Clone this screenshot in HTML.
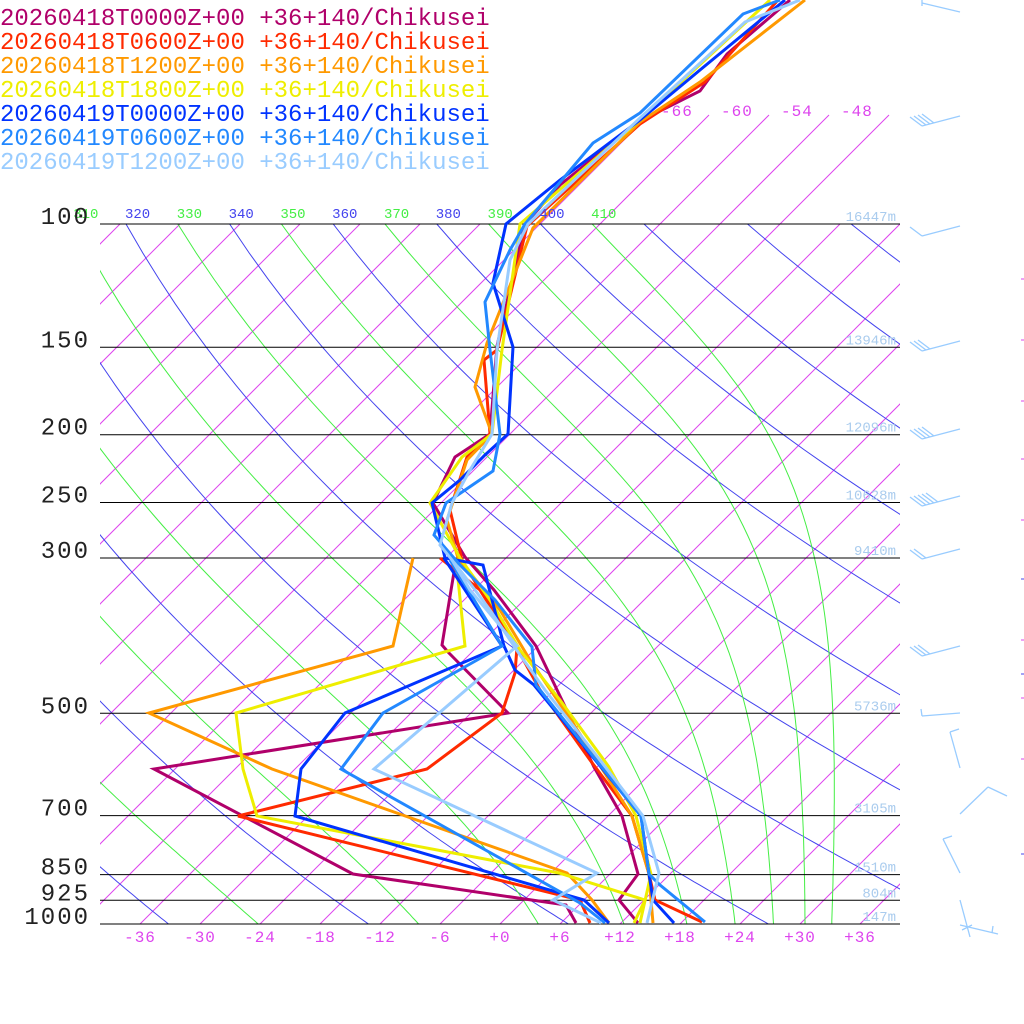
<!DOCTYPE html>
<html><head><meta charset="utf-8">
<style>
html,body{margin:0;padding:0;background:#fff;}
svg{display:block;}
text{font-family:"Liberation Mono",monospace;}
</style></head>
<body>
<svg id="s" width="1024" height="1024" viewBox="0 0 1024 1024" xmlns="http://www.w3.org/2000/svg">
<defs><clipPath id="c"><rect x="100" y="224" width="800" height="700"/></clipPath></defs>
<g id="grid" clip-path="url(#c)"></g>
<g id="extra"></g>
<g id="hl"></g>
<g id="data" fill="none" stroke-width="3" stroke-linejoin="miter"></g>
<g id="txt"></g>
</svg>
<script>
var NS="http://www.w3.org/2000/svg";
function el(p,t,a,txt){var e=document.createElementNS(NS,t);for(var k in a)e.setAttribute(k,a[k]);if(txt!==undefined)e.textContent=txt;document.getElementById(p).appendChild(e);return e;}
function Y(p){return 924-700*Math.log10(1000/p);}
function X(T,y){return 500+10*T+(924-y);}
var MAG="#dd44ee";
for(var T=-150;T<=60;T+=6){
  el("grid","line",{x1:X(T,924),y1:924,x2:X(T,224),y2:224,stroke:MAG,"stroke-width":1});
}
[-66,-60,-54,-48,-42].forEach(function(T){
  var ya=115,yb=224;var xa=X(T,ya),xb=X(T,yb);
  if(xb>900){yb=ya+(900-xa);xb=900;}
  el("extra","line",{x1:xa,y1:ya,x2:xb,y2:yb,stroke:MAG,"stroke-width":1});
  if(T<-42)el("txt","text",{x:xa+12,y:116,fill:MAG,"font-size":16,"letter-spacing":1},"-"+(-T));
});
function dry(th){var pts=[];for(var p=100;p<=1000;p+=10){var T=th*Math.pow(p/1000,0.2857)-273.15;var y=Y(p);pts.push(X(T,y).toFixed(1)+","+y.toFixed(1));}return pts.join(" ");}
for(var th=200;th<=520;th+=20){el("grid","polyline",{points:dry(th),fill:"none",stroke:"#4444ee","stroke-width":1});}
function es(T){var c=T-273.15;return 6.112*Math.exp(17.67*c/(c+243.5));}
function moist(th){var T=th*Math.pow(0.1,0.2857);var pts=[];var p=100;var Rd=287,cp=1004,L=2.5e6,eps=0.622;
  while(p<=1000){var y=Y(p);pts.push(X(T-273.15,y).toFixed(1)+","+y.toFixed(1));
    for(var i=0;i<10;i++){var e=es(T);var rs=eps*e/(p-e);var dTdp=(Rd*T+L*rs)/(p*(cp+L*L*rs*eps/(Rd*T*T)));T+=dTdp*1;p+=1;}
  }return pts.join(" ");}
for(var th=230;th<=410;th+=20){el("grid","polyline",{points:moist(th),fill:"none",stroke:"#44ee44","stroke-width":1});}
for(var th=320;th<=400;th+=20){var T=th*Math.pow(0.1,0.2857)-273.15;el("txt","text",{x:X(T,224)-1,y:218,fill:"#4444ee","font-size":14},th);}
for(var th=310;th<=410;th+=20){var T=th*Math.pow(0.1,0.2857)-273.15;el("txt","text",{x:X(T,224)-1,y:218,fill:"#44ee44","font-size":14},th);}
var P=[[100,"100"],[150,"150"],[200,"200"],[250,"250"],[300,"300"],[500,"500"],[700,"700"],[850,"850"],[925,"925"],[1000,"1000"]];
P.forEach(function(a){var y=Y(a[0]);el("hl","line",{x1:100,y1:y,x2:900,y2:y,stroke:"#000","stroke-width":1});
  el("txt","text",{x:90,y:y,"text-anchor":"end",fill:"#222","font-size":24,"letter-spacing":2},a[1]);});
var H=[[100,"16447m"],[150,"13946m"],[200,"12096m"],[250,"10628m"],[300,"9410m"],[500,"5736m"],[700,"3105m"],[850,"1510m"],[925,"804m"],[1000,"147m"]];
H.forEach(function(a){el("txt","text",{x:896,y:Y(a[0])-3,"text-anchor":"end",fill:"#aaccee","font-size":14},a[1]);});
for(var T=-36;T<=36;T+=6){el("txt","text",{x:500+10*T,y:942,"text-anchor":"middle",fill:MAG,"font-size":16,"letter-spacing":1},(T<0?"-":"+")+Math.abs(T));}
var D=[
["#b0006a",[[638,923],[619,900],[638,874],[622,816],[594,767],[536,646],[494,590],[465,557],[433,503],[455,457],[490,434],[497,346],[525,224],[560,185],[640,121],[700,91],[727,54],[790,0]],
 [[576,923],[566,905],[353,874],[154,769],[508,713],[448,652],[442,645],[456,560]]],
["#ff2a00",[[702,922],[655,900],[649,874],[632,816],[590,760],[540,690],[518,650],[480,590],[462,560],[450,510],[467,457],[490,434],[484,360],[497,350],[527,226],[640,124],[705,82],[778,0]],
 [[590,923],[580,900],[238,816],[427,769],[502,713],[515,673],[517,647],[480,590],[440,558]]],
["#ff9900",[[653,923],[651,900],[649,874],[632,816],[571,720],[530,660],[500,610],[458,558],[447,520],[467,460],[492,434],[475,387],[487,343],[533,228],[640,122],[700,82],[805,0]],
 [[609,923],[592,900],[567,873],[272,769],[149,713],[393,646],[413,558]]],
["#eeee00",[[640,923],[651,874],[636,816],[609,767],[560,700],[520,650],[490,600],[460,558],[430,503],[462,457],[492,434],[502,350],[520,224],[640,120],[770,0]],
 [[634,923],[645,900],[559,873],[257,816],[243,769],[236,713],[465,646],[456,560]]],
["#0033ff",[[674,923],[653,900],[649,874],[641,816],[534,685],[515,670],[504,646],[483,565],[445,558],[432,503],[460,480],[485,455],[508,434],[513,347],[493,283],[506,224],[560,180],[640,120],[700,70],[785,0]],
 [[609,923],[584,900],[295,816],[301,769],[345,713],[502,646],[444,558]]],
["#2288ff",[[705,922],[660,885],[649,874],[641,816],[536,685],[532,647],[495,600],[460,565],[434,535],[446,503],[493,471],[500,434],[490,350],[485,302],[510,250],[525,224],[593,143],[640,113],[743,14],[780,0]],
 [[605,923],[580,903],[341,769],[383,713],[502,646],[450,560]]],
["#99ccff",[[647,923],[659,873],[643,816],[600,760],[545,690],[520,655],[490,610],[460,570],[440,545],[452,503],[470,470],[492,434],[497,350],[510,260],[528,224],[640,118],[745,22],[800,0]],
 [[601,923],[553,900],[597,873],[374,769],[517,646],[470,590],[452,560]]]
];
D.forEach(function(d){
  [d[1],d[2]].forEach(function(pts){el("data","polyline",{points:pts.map(function(q){return q.join(",");}).join(" "),stroke:d[0]});});
});
var leg=["20260418T0000Z+00","20260418T0600Z+00","20260418T1200Z+00","20260418T1800Z+00","20260419T0000Z+00","20260419T0600Z+00","20260419T1200Z+00"];
leg.forEach(function(s,i){el("txt","text",{x:0,y:25+24*i,fill:D[i][0],"font-size":24},s+" +36+140/Chikusei");});
var bc="#99ccff";
function L(a,b,c,d){el("txt","line",{x1:a,y1:b,x2:c,y2:d,stroke:bc,"stroke-width":1.3});}
L(922,3,960,12);L(922,0,922,6);
function barb(y,n){L(922,y+6,960,y-4);for(var i=0;i<n;i++){var x=922+i*4;L(x,y+6-i,x-12,y-3-i);}}
barb(120,4);barb(230,1);barb(345,3);barb(433,4);barb(500,5);barb(553,2);barb(650,3);
L(922,716,960,713);L(921,709,922,716);
L(950,732,960,768);L(950,732,959,729);
L(960,814,988,787);L(988,787,1007,796);
L(943,839,960,873);L(943,839,952,836);
L(960,925,998,934);L(960,900,970,937);L(962,930,972,925);L(992,933,993,926);
[279,340,401,459,520,640,698,759].forEach(function(y){el("txt","line",{x1:1021,y1:y,x2:1024,y2:y,stroke:MAG,"stroke-width":1});});
[579,674,854].forEach(function(y){el("txt","line",{x1:1021,y1:y,x2:1024,y2:y,stroke:"#4444ee","stroke-width":1});});
</script>
</body></html>
